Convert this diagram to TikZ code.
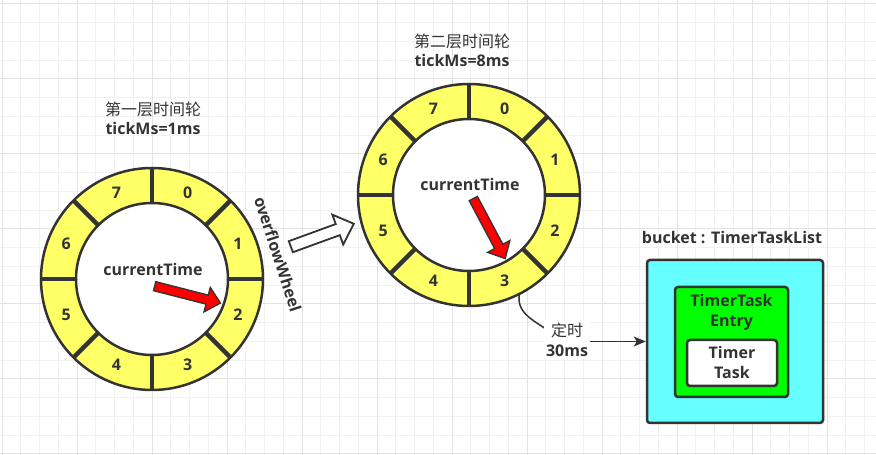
\documentclass[tikz,border=0pt]{standalone}
\usepackage{fontspec}
\setmainfont{Open Sans}[BoldFont={Open Sans Bold}]
\newfontfamily\cjk{Noto Sans CJK SC}
\usepackage{tikz}
\usetikzlibrary{arrows.meta, positioning, calc, shapes.arrows}
\definecolor{wheelyellow}{HTML}{FFFF66}
\definecolor{inkgray}{HTML}{333333}
\definecolor{bucketcyan}{HTML}{66FFFF}
\definecolor{entrygreen}{HTML}{00FF00}
\definecolor{gridminor}{HTML}{F1F1F1}
\definecolor{gridmajor}{HTML}{E3E3E3}
\tikzset{
  wheelring/.style={circle, draw=inkgray, line width=2.5pt, fill=wheelyellow,
    minimum size=222pt, inner sep=0pt, outer sep=0pt},
  wheelhub/.style={circle, draw=inkgray, line width=2.5pt, fill=white,
    minimum size=152pt, inner sep=0pt, outer sep=0pt},
  slotline/.style={line width=4.5pt, inkgray},
  slotlabel/.style={font=\fontsize{16}{19}\selectfont\bfseries, text=inkgray},
  titletext/.style={font=\fontsize{16}{19}\selectfont\bfseries, text=inkgray, align=center},
  redpointer/.style={single arrow, fill=red, draw=inkgray, line width=1.3pt,
    inner xsep=0pt, inner ysep=4pt, single arrow head extend=8pt,
    single arrow tip angle=85, anchor=tail},
  hollowpointer/.style={single arrow, fill=white, draw=inkgray, line width=1.8pt,
    inner xsep=0pt, inner ysep=5pt, single arrow head extend=10pt,
    single arrow tip angle=86, anchor=tail},
  bucketbox/.style={draw=inkgray, line width=2.5pt, rounded corners=3pt, fill=bucketcyan,
    minimum width=176pt, minimum height=163pt},
  entrybox/.style={draw=inkgray, line width=2.5pt, rounded corners=3pt, fill=entrygreen,
    minimum width=113pt, minimum height=110pt},
  taskbox/.style={draw=inkgray, line width=2.5pt, rounded corners=3pt, fill=white,
    minimum width=90pt, minimum height=46pt, align=center, inner sep=0pt,
    font=\fontsize{16}{20}\selectfont\bfseries, text=inkgray},
  boxtext/.style={font=\fontsize{16}{20}\selectfont\bfseries, text=inkgray, align=center, inner sep=1pt},
  delaylabel/.style={fill=white, align=center, inner sep=2pt, text=inkgray,
    font=\fontsize{16}{20}\selectfont\bfseries},
  linkline/.style={line width=1.5pt, inkgray},
  linkarrow/.style={-{Stealth[length=12pt, width=10pt, inset=3pt]}, line width=1.5pt, inkgray},
}

\begin{document}
\begin{tikzpicture}[x=1pt, y=1pt]
  \useasboundingbox (0,0) rectangle (876,455);
  \fill[white] (0,0) rectangle (876,455);
  \foreach \k in {0,...,46}
    \draw[gridminor, line width=1pt] ({2+18.75*\k},0) -- ({2+18.75*\k},455);
  \foreach \k in {0,...,24}
    \draw[gridminor, line width=1pt] (0,{451-18.75*\k}) -- (876,{451-18.75*\k});
  \foreach \k in {0,...,11}
    \draw[gridmajor, line width=1pt] ({2+75*\k},0) -- ({2+75*\k},455);
  \foreach \k in {0,...,6}
    \draw[gridmajor, line width=1pt] (0,{451-75*\k}) -- (876,{451-75*\k});

  \node[titletext] (title1) at (153,337) {{\mdseries\cjk 第一层时间轮}\\tickMs=1ms};
  \node[wheelring] (w1) at (152,176) {};
  \node[wheelhub] (h1) at (w1) {};
  \foreach \a in {0,45,...,315}
    \draw[slotline] (h1.\a) -- (w1.\a);
  \foreach \s in {0,...,7}
    \node[slotlabel] (slotA\s) at ($(w1)+({67.5-45*\s}:93)$) {\s};
  \node[slotlabel] (cur1) at (153,185) {currentTime};
  \node[redpointer, rotate=-14.4, minimum height=68pt] (ptr1) at (154,169) {};

  \node[titletext] (title2) at (462,405) {{\mdseries\cjk 第二层时间轮}\\tickMs=8ms};
  \node[wheelring] (w2) at (469,260) {};
  \node[wheelhub] (h2) at (w2) {};
  \foreach \a in {0,45,...,315}
    \draw[slotline] (h2.\a) -- (w2.\a);
  \foreach \s in {0,...,7}
    \node[slotlabel] (slotB\s) at ($(w2)+({67.5-45*\s}:93)$) {\s};
  \node[slotlabel] (cur2) at (470,270) {currentTime};
  \node[redpointer, rotate=-62, minimum height=68pt] (ptr2) at (473,257) {};

  \node[hollowpointer, rotate=20, minimum height=67pt] (ovfptr) at (290,208) {};
  \node[slotlabel, rotate=-72] (ovf) at (278,201) {overflowWheel};

  \node[boxtext] (buckettitle) at (732,217) {bucket : TimerTaskList};
  \node[bucketbox] (bucket) at (735,113.5) {};
  \node[entrybox] (entry) at (731.5,113) {};
  \node[boxtext] (entrytext) at (731.5,143) {TimerTask\\Entry};
  \node[taskbox] (task) at (732,92) {Timer\\Task};

  \draw[linkline] (w2.-63) to[out=-100, in=135] (560,115);
  \node[delaylabel] (delay) at (567,115) {{\mdseries\cjk 定时}\\30ms};
  \draw[linkarrow] (delay.east |- bucket.west) -- (bucket.west);
\end{tikzpicture}
\end{document}
